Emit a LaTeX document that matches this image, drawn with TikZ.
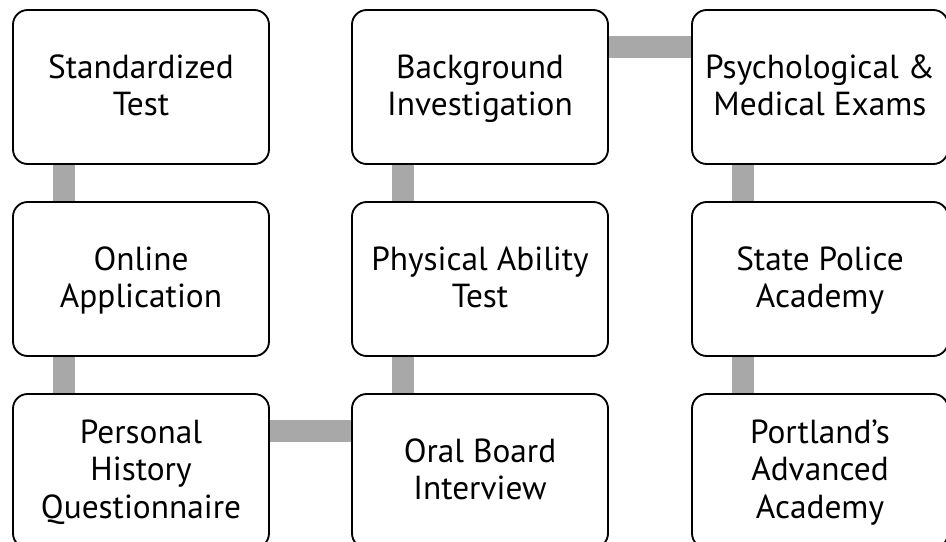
\documentclass[tikz,border=0pt]{standalone}
\usepackage{fontspec}
\setmainfont{PT Sans}
\usetikzlibrary{backgrounds}
\definecolor{linkgray}{HTML}{A8A8A8}
\begin{document}
\begin{tikzpicture}[
		stage/.style={draw, line width=1.4pt, rounded corners=11pt, fill=white,
			minimum width=192pt, minimum height=115.5pt, align=center,
			font=\fontsize{25}{28}\selectfont, text depth=3pt},
		link/.style={linkgray, line width=17pt}
	]
		\useasboundingbox (0,0) rectangle (709.5pt,-406.5pt);
		\node[stage] at (105.75pt,-65.25pt) (st) {Standardized\\Test};
		\node[stage] at (105.75pt,-209.25pt) (oa) {Online\\Application};
		\node[stage] at (105.75pt,-353.25pt) (ph) {Personal\\History\\Questionnaire};
		\node[stage] at (360pt,-353.25pt) (ob) {Oral Board\\Interview};
		\node[stage] at (360pt,-209.25pt) (pa) {Physical Ability\\Test};
		\node[stage] at (360pt,-65.25pt) (bi) {Background\\Investigation};
		\node[stage] at (615pt,-65.25pt) (pm) {Psychological \&\\Medical Exams};
		\node[stage] at (615pt,-209.25pt) (sp) {State Police\\Academy};
		\node[stage] at (615pt,-353.25pt) (pd) {Portland's\\Advanced\\Academy};
		% links go behind the boxes
		\begin{scope}[on background layer]
		\draw[link] ([xshift=39pt]st.south west) -- ([xshift=39pt]oa.north west);
		\draw[link] ([xshift=39pt]oa.south west) -- ([xshift=39pt]ph.north west);
		\draw[link] ([yshift=-28.5pt]ph.north east) -- ([yshift=-28.5pt]ob.north west);
		\draw[link] ([xshift=39pt]ob.north west) -- ([xshift=39pt]pa.south west);
		\draw[link] ([xshift=39pt]pa.north west) -- ([xshift=39pt]bi.south west);
		\draw[link] ([yshift=-28.5pt]bi.north east) -- ([yshift=-28.5pt]pm.north west);
		\draw[link] ([xshift=39pt]pm.south west) -- ([xshift=39pt]sp.north west);
		\draw[link] ([xshift=39pt]sp.south west) -- ([xshift=39pt]pd.north west);
		\end{scope}
	\end{tikzpicture}
\end{document}
